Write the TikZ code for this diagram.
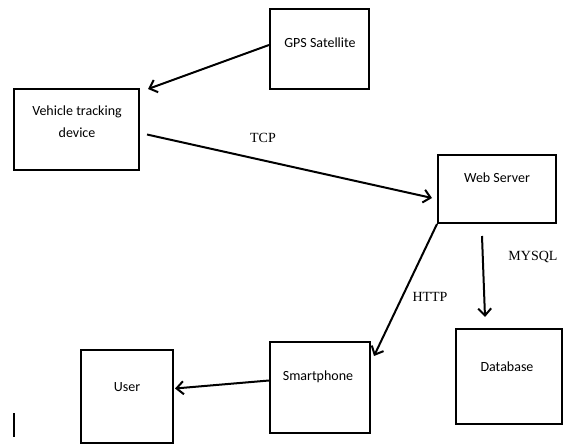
\documentclass[tikz,border=0pt]{standalone}
\usepackage{fontspec}
\setmainfont{Liberation Serif}
\newfontfamily\boxfont{Carlito}
\usetikzlibrary{arrows.meta,calc}
\begin{document}
\begin{tikzpicture}[x=1pt,y=-1pt,
  box/.style={draw,line width=2pt,inner sep=0pt},
  boxtext/.style={font=\boxfont\fontsize{14}{22}\selectfont,align=center,inner sep=0pt},
  lbl/.style={font=\fontsize{14}{16}\selectfont,inner sep=0pt},
  conn/.style={line width=2pt,-{Straight Barb[length=7pt,width=13pt,line width=2pt]}}]
\useasboundingbox (0,0) rectangle (563,444);
% boxes
\node[box,minimum width=99pt,minimum height=80pt] (gps) at (319.5,49) {};
\node[box,minimum width=125pt,minimum height=81pt] (veh) at (76.5,129.5) {};
\node[box,minimum width=118pt,minimum height=68pt] (web) at (497,189) {};
\node[box,minimum width=106pt,minimum height=95pt] (db) at (509,376.5) {};
\node[box,minimum width=100pt,minimum height=91pt] (smart) at (320,387.5) {};
\node[box,minimum width=92pt,minimum height=93pt] (user) at (127,396.5) {};
% box texts
\node[boxtext] (gpst) at (320,43) {GPS Satellite};
\node[boxtext] (veht) at (77,122) {Vehicle tracking\\device};
\node[boxtext] (webt) at (497,178) {Web Server};
\node[boxtext] (dbt) at (507,367) {Database};
\node[boxtext] (smartt) at (318,377) {Smartphone};
\node[boxtext] (usert) at (127,387) {User};
% connector labels
\node[lbl] (tcp) at (263,138) {TCP};
\node[lbl] (mysql) at (533,257) {MYSQL};
\node[lbl] (http) at (430,297) {HTTP};
% connectors
\draw[conn] ($(gps.west)+(0,-4)$) -- ($(veh.north east)+(8,1)$);
\draw[conn] ($(veh.east)+(7,5)$) -- ($(web.west)+(-5,9)$);
\draw[conn] (web.south west) -- ($(smart.north east)+(3,15)$);
\draw[conn] ($(web.south)+(-15,12)$) -- ($(db.north)+(-24,-11)$);
\draw[conn] ($(smart.west)+(0,-7)$) -- ($(user.east)+(1,-8)$);
% cursor mark
\coordinate (c1) at (14,413);
\coordinate (c2) at (14,437);
\draw[line width=2pt] (c1) -- (c2);
\end{tikzpicture}
\end{document}
